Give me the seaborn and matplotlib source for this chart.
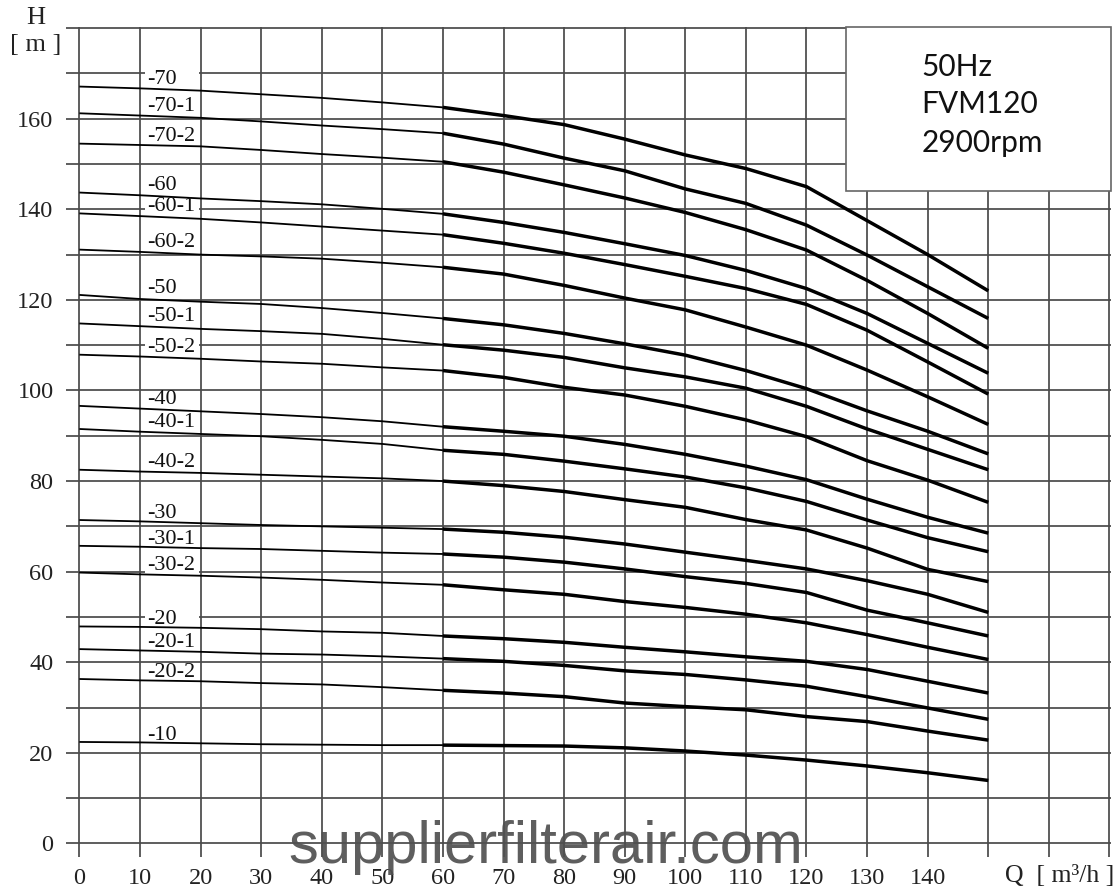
import numpy as np
import pandas as pd
import matplotlib
matplotlib.use("Agg")
import matplotlib.pyplot as plt
from matplotlib.patches import Rectangle
import seaborn as sns

# ---------------- data ----------------
flow = [0, 10, 20, 30, 40, 50, 60, 70, 80, 90, 100, 110, 120, 130, 140, 150]

h_70   = [167.1, 166.7, 166.2, 165.4, 164.6, 163.6, 162.5, 160.7, 158.7, 155.5, 152.0, 149.0, 145.0, 137.5, 130.0, 122.0]
h_70_1 = [161.2, 160.7, 160.2, 159.4, 158.5, 157.7, 156.8, 154.4, 151.3, 148.5, 144.5, 141.3, 136.5, 129.9, 122.9, 115.9]
h_70_2 = [154.5, 154.2, 153.9, 153.1, 152.2, 151.4, 150.5, 148.2, 145.4, 142.5, 139.3, 135.5, 131.0, 124.3, 117.0, 109.3]
h_60   = [143.7, 143.1, 142.4, 141.8, 141.1, 140.1, 139.0, 137.1, 134.9, 132.4, 129.8, 126.5, 122.5, 117.0, 110.4, 103.8]
h_60_1 = [139.1, 138.5, 137.9, 137.1, 136.2, 135.3, 134.4, 132.5, 130.3, 127.8, 125.2, 122.5, 119.0, 113.3, 106.3, 99.2]
h_60_2 = [131.1, 130.6, 130.0, 129.6, 129.1, 128.2, 127.2, 125.7, 123.2, 120.4, 117.8, 114.0, 110.0, 104.5, 98.6, 92.5]
h_50   = [121.1, 120.2, 119.6, 119.1, 118.2, 117.1, 115.9, 114.5, 112.6, 110.3, 107.8, 104.4, 100.4, 95.5, 91.0, 86.0]
h_50_1 = [114.8, 114.2, 113.6, 113.1, 112.5, 111.4, 110.1, 108.9, 107.3, 105.0, 103.0, 100.5, 96.5, 91.5, 87.0, 82.5]
h_50_2 = [107.9, 107.5, 107.0, 106.4, 105.9, 105.1, 104.4, 102.9, 100.7, 99.0, 96.5, 93.5, 89.8, 84.5, 80.2, 75.3]
h_40   = [96.6, 96.0, 95.4, 94.8, 94.1, 93.2, 92.0, 91.0, 89.9, 88.1, 85.9, 83.3, 80.3, 76.0, 72.0, 68.5]
h_40_1 = [91.5, 90.9, 90.4, 89.9, 89.1, 88.2, 86.8, 85.9, 84.4, 82.7, 80.9, 78.5, 75.5, 71.4, 67.5, 64.4]
h_40_2 = [82.5, 82.1, 81.8, 81.4, 81.0, 80.6, 80.0, 79.0, 77.7, 75.9, 74.2, 71.5, 69.2, 65.2, 60.5, 57.8]
h_30   = [71.4, 71.1, 70.7, 70.3, 70.0, 69.7, 69.4, 68.7, 67.6, 66.1, 64.3, 62.5, 60.6, 58.0, 55.0, 51.0]
h_30_1 = [65.7, 65.5, 65.2, 65.0, 64.6, 64.2, 63.9, 63.2, 62.1, 60.6, 58.9, 57.4, 55.4, 51.5, 48.7, 45.8]
h_30_2 = [59.8, 59.4, 59.1, 58.7, 58.2, 57.6, 57.1, 56.0, 55.0, 53.4, 52.1, 50.6, 48.7, 46.1, 43.3, 40.6]
h_20   = [47.9, 47.8, 47.6, 47.3, 46.8, 46.5, 45.8, 45.2, 44.4, 43.3, 42.3, 41.2, 40.2, 38.4, 35.8, 33.2]
h_20_1 = [42.9, 42.6, 42.3, 41.9, 41.7, 41.3, 40.8, 40.2, 39.3, 38.1, 37.3, 36.1, 34.7, 32.4, 29.9, 27.4]
h_20_2 = [36.3, 36.0, 35.8, 35.4, 35.1, 34.5, 33.8, 33.2, 32.4, 31.0, 30.2, 29.5, 28.0, 26.9, 24.8, 22.8]
h_10   = [22.4, 22.3, 22.1, 21.9, 21.8, 21.7, 21.7, 21.6, 21.5, 21.1, 20.4, 19.5, 18.4, 17.1, 15.6, 13.9]

models = ["-70", "-70-1", "-70-2", "-60", "-60-1", "-60-2", "-50", "-50-1", "-50-2",
          "-40", "-40-1", "-40-2", "-30", "-30-1", "-30-2", "-20", "-20-1", "-20-2", "-10"]
heads = [h_70, h_70_1, h_70_2, h_60, h_60_1, h_60_2, h_50, h_50_1, h_50_2,
         h_40, h_40_1, h_40_2, h_30, h_30_1, h_30_2, h_20, h_20_1, h_20_2, h_10]

x_tick_values = list(range(0, 171, 10))
x_tick_labels = [str(v) if v <= 140 else "" for v in x_tick_values]
y_tick_values = list(range(0, 181, 10))
y_tick_labels = [str(v) if (v % 20 == 0 and v <= 160) else "" for v in y_tick_values]

info_lines = ["50Hz", "FVM120", "2900rpm"]
watermark = "supplierfilterair.com"

OPERATING_START = 60  # thick part of the curve begins here

# ---------------- long-form table ----------------
rows = []
for name, h in zip(models, heads):
    for q, v in zip(flow, h):
        if q <= OPERATING_START:
            rows.append({"id": name + "_low", "seg": "low", "Q": q, "H": v})
        if q >= OPERATING_START:
            rows.append({"id": name + "_high", "seg": "high", "Q": q, "H": v})
df = pd.DataFrame(rows)

# ---------------- style ----------------
sns.set_style("white")
plt.rcParams["font.family"] = ["Liberation Serif", "DejaVu Serif"]

W, H = 1120, 891
fig = plt.figure(figsize=(W / 100, H / 100), dpi=100)
ax = fig.add_axes([66 / W, (H - 857) / H, (1111 - 66) / W, (857 - 27) / H])

sns.lineplot(data=df, x="Q", y="H", units="id", estimator=None,
             size="seg", sizes={"low": 1.3, "high": 2.5},
             color="black", legend=False, ax=ax, zorder=4,
             solid_capstyle="butt")

ax.set_xlim(-2.2, 170.25)
ax.set_ylim(-3.0, 180.25)
ax.set_xticks(x_tick_values)
ax.set_xticklabels(x_tick_labels)
ax.set_yticks(y_tick_values)
ax.set_yticklabels(y_tick_labels)
ax.tick_params(axis="both", length=0, labelsize=17.5, labelcolor="#222222")
ax.tick_params(axis="x", pad=8)
ax.tick_params(axis="y", pad=9)
ax.set_xlabel("")
ax.set_ylabel("")
for s in ax.spines.values():
    s.set_visible(False)
ax.grid(True, color="#4a4a4a", linewidth=1.25)
ax.set_axisbelow(True)

# curve labels with white patches that interrupt the grid
for name, h in zip(models, heads):
    yc = h[0] + 1.5
    ax.add_patch(Rectangle((10.9, yc - 1.8), 8.8, 3.6, facecolor="white",
                           edgecolor="none", zorder=2))
    ax.text(11.2, yc, name, ha="left", va="center", fontsize=16,
            color="#111111", zorder=5)

# info box in the upper right
ax.add_patch(Rectangle((126.6, 144.0), 43.6, 36.2, facecolor="white",
                       edgecolor="#666666", linewidth=1.2, zorder=3,
                       clip_on=False))
for line, yy in zip(info_lines, [171.4, 163.2, 154.6]):
    ax.text(139.0, yy, line, ha="left", va="center", fontsize=21.5,
            family=["Lato", "DejaVu Sans"], color="#111111", zorder=6)

# axis captions
fig.text(36 / W, 1 - 18 / H, "H", ha="center", va="center", fontsize=19,
         color="#222222")
fig.text(36 / W, 1 - 45 / H, "[ m ]", ha="center", va="center", fontsize=19,
         color="#222222")
fig.text(1114 / W, 1 - 876 / H, "Q  [ m³/h ]", ha="right", va="center",
         fontsize=18.5, color="#222222")

# watermark
fig.text(546 / W, 1 - 863 / H, watermark, ha="center", va="baseline",
         fontsize=43, family=["Liberation Sans", "DejaVu Sans"],
         color="#505050", alpha=0.92, zorder=10)

fig.savefig("out.png", dpi=100, facecolor="white")
